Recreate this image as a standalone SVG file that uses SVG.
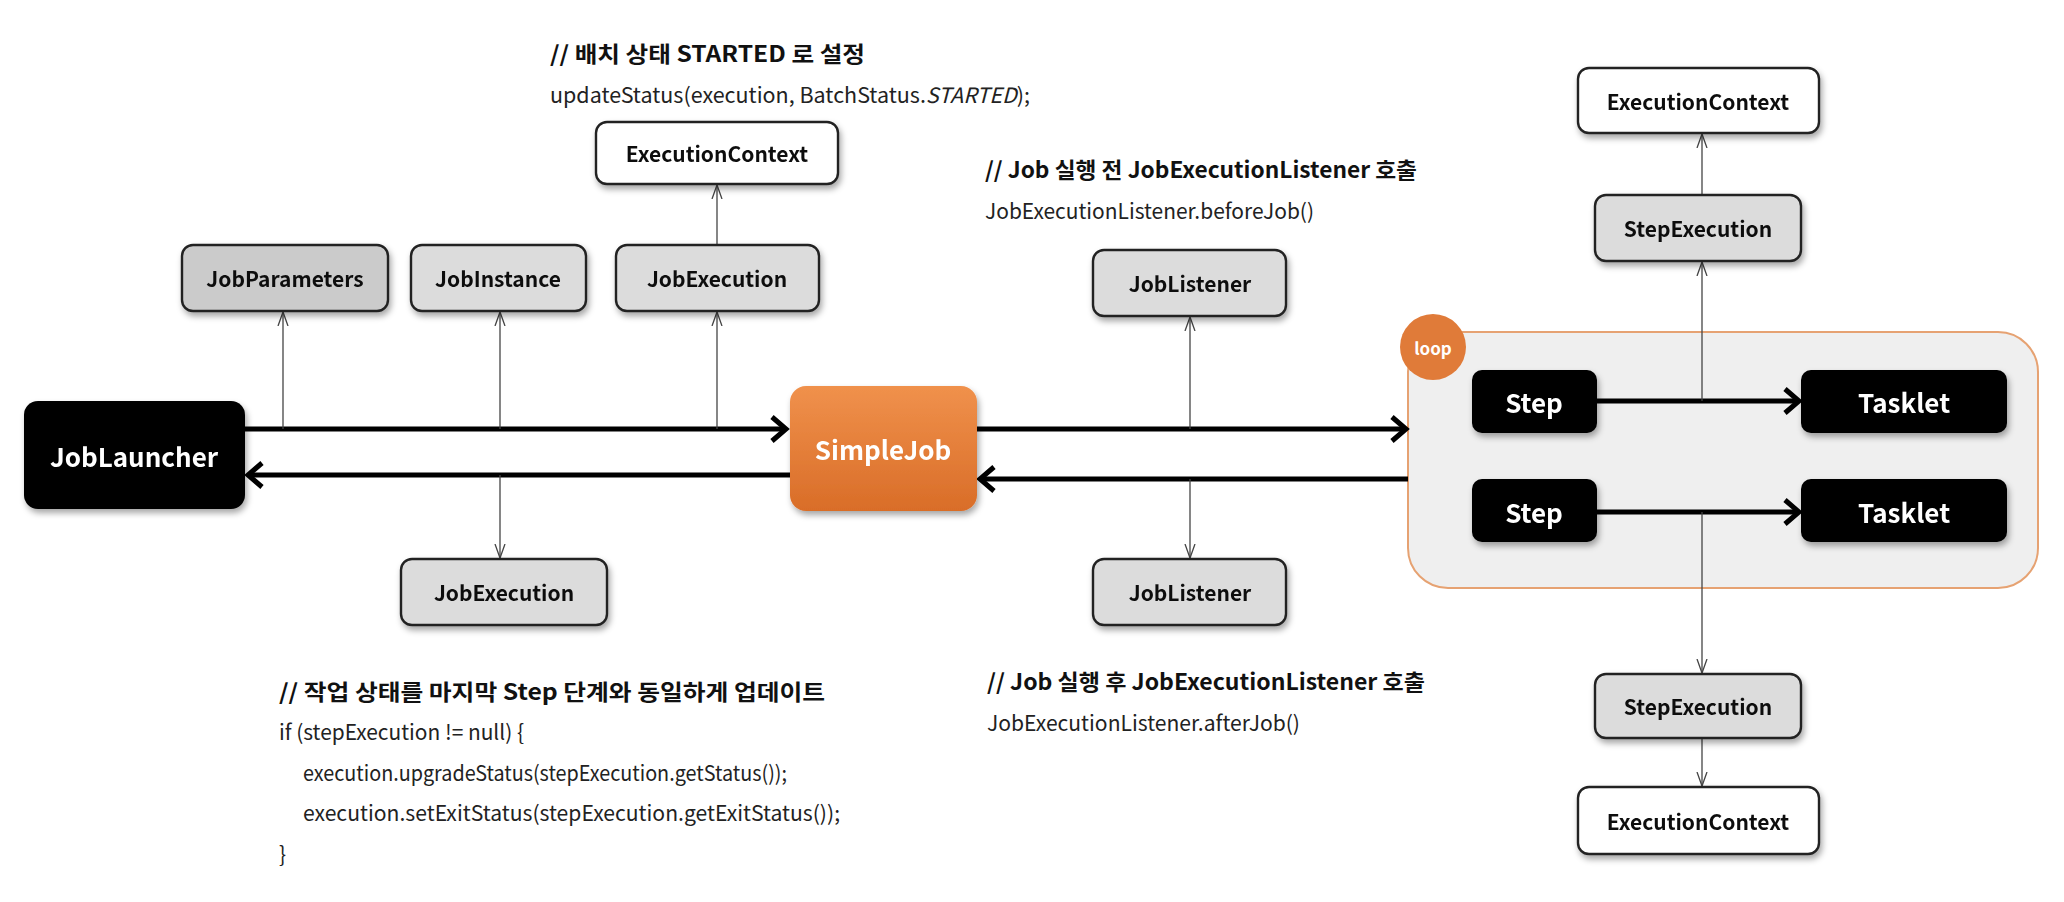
<svg xmlns="http://www.w3.org/2000/svg" width="2064" height="902" viewBox="0 0 2064 902">
<style>
text{font-family:"Noto Sans CJK KR","Noto Sans",sans-serif}
.lbl{font-size:21px;font-weight:700;fill:#111;text-anchor:middle;dominant-baseline:central}
.wlbl{font-size:26px;font-weight:700;fill:#fff;text-anchor:middle;dominant-baseline:central}
.grey{fill:#dcdcdc;stroke:#222;stroke-width:2.4}
.white{fill:#fff;stroke:#222;stroke-width:2.4}
.black{fill:#000}
.thick{stroke:#000;stroke-width:5;fill:none}
.thin{stroke:#444;stroke-width:1.3;fill:none}
.hd{font-size:22px;font-weight:700;fill:#111}
.code{font-size:21px;fill:#222}
</style>
<defs>
<filter id="sh" x="-20%" y="-20%" width="140%" height="150%">
<feDropShadow dx="2" dy="4" stdDeviation="3" flood-color="#000" flood-opacity="0.35"/>
</filter>
<linearGradient id="og" x1="0" y1="0" x2="0" y2="1">
<stop offset="0" stop-color="#f0914c"/>
<stop offset="1" stop-color="#d96d28"/>
</linearGradient>
<marker id="ah" markerUnits="userSpaceOnUse" markerWidth="22" markerHeight="32" refX="17" refY="15" orient="auto">
<path d="M3,3 L17,15 L3,27" fill="none" stroke="#000" stroke-width="5" stroke-linejoin="miter"/>
</marker>
<marker id="at" markerUnits="userSpaceOnUse" markerWidth="16" markerHeight="12" refX="14" refY="6" orient="auto">
<path d="M0,1 L14,6 L0,11" fill="none" stroke="#444" stroke-width="1.3"/>
</marker>
</defs>
<rect width="2064" height="902" fill="#fff"/>

<!-- texts -->
<text class="hd" x="550" y="62" textLength="315" lengthAdjust="spacingAndGlyphs">// 배치 상태 STARTED 로 설정</text>
<text class="code" x="550" y="103" textLength="480" lengthAdjust="spacingAndGlyphs">updateStatus(execution, BatchStatus.<tspan font-style="italic">STARTED</tspan>);</text>
<text class="hd" x="985" y="178" textLength="432" lengthAdjust="spacingAndGlyphs">// Job 실행 전 JobExecutionListener 호출</text>
<text class="code" x="985" y="219" textLength="329" lengthAdjust="spacingAndGlyphs">JobExecutionListener.beforeJob()</text>
<text class="hd" x="987" y="690" textLength="438" lengthAdjust="spacingAndGlyphs">// Job 실행 후 JobExecutionListener 호출</text>
<text class="code" x="987" y="731" textLength="313" lengthAdjust="spacingAndGlyphs">JobExecutionListener.afterJob()</text>
<text class="hd" x="279" y="700" textLength="546" lengthAdjust="spacingAndGlyphs">// 작업 상태를 마지막 Step 단계와 동일하게 업데이트</text>
<text class="code" x="279" y="740" textLength="245" lengthAdjust="spacingAndGlyphs">if (stepExecution != null) {</text>
<text class="code" x="303" y="781" textLength="484" lengthAdjust="spacingAndGlyphs">execution.upgradeStatus(stepExecution.getStatus());</text>
<text class="code" x="303" y="821" textLength="537" lengthAdjust="spacingAndGlyphs">execution.setExitStatus(stepExecution.getExitStatus());</text>
<text class="code" x="279" y="862">}</text>

<!-- loop container -->
<g id="loop">
<rect x="1408" y="332" width="630" height="256" rx="40" fill="#efefef" stroke="#e6a272" stroke-width="2"/>
<circle cx="1433" cy="347" r="33" fill="#e07b39"/>
<text x="1433" y="347" font-size="17" font-weight="700" fill="#fff" text-anchor="middle" dominant-baseline="central">loop</text>
</g>

<!-- connectors -->
<g id="connectors">
<line class="thick" x1="245" y1="429" x2="786" y2="429" marker-end="url(#ah)"/>
<line class="thick" x1="790" y1="475" x2="248" y2="475" marker-end="url(#ah)"/>
<line class="thick" x1="977" y1="429" x2="1406" y2="429" marker-end="url(#ah)"/>
<line class="thick" x1="1408" y1="479" x2="980" y2="479" marker-end="url(#ah)"/>
<line class="thick" x1="1597" y1="401" x2="1799" y2="401" marker-end="url(#ah)"/>
<line class="thick" x1="1597" y1="512" x2="1799" y2="512" marker-end="url(#ah)"/>
<line class="thin" x1="283" y1="429" x2="283" y2="312" marker-end="url(#at)"/>
<line class="thin" x1="500" y1="429" x2="500" y2="312" marker-end="url(#at)"/>
<line class="thin" x1="717" y1="429" x2="717" y2="312" marker-end="url(#at)"/>
<line class="thin" x1="717" y1="245" x2="717" y2="185" marker-end="url(#at)"/>
<line class="thin" x1="500" y1="475" x2="500" y2="558" marker-end="url(#at)"/>
<line class="thin" x1="1190" y1="429" x2="1190" y2="317" marker-end="url(#at)"/>
<line class="thin" x1="1190" y1="479" x2="1190" y2="558" marker-end="url(#at)"/>
<line class="thin" x1="1702" y1="401" x2="1702" y2="262" marker-end="url(#at)"/>
<line class="thin" x1="1702" y1="195" x2="1702" y2="134" marker-end="url(#at)"/>
<line class="thin" x1="1702" y1="512" x2="1702" y2="673" marker-end="url(#at)"/>
<line class="thin" x1="1702" y1="738" x2="1702" y2="786" marker-end="url(#at)"/>
</g>

<!-- nodes -->
<g id="jobLauncher" filter="url(#sh)"><rect class="black" x="24" y="401" width="221" height="108" rx="14"/><text class="wlbl" x="134" y="455">JobLauncher</text></g>
<g id="simpleJob" filter="url(#sh)"><rect x="790" y="386" width="187" height="125" rx="16" fill="url(#og)"/><text class="wlbl" x="883" y="448">SimpleJob</text></g>
<g id="jobParameters" filter="url(#sh)"><rect class="grey" x="182" y="245" width="206" height="66" rx="11" style="fill:#cbcbcb"/><text class="lbl" x="285" y="278">JobParameters</text></g>
<g id="jobInstance" filter="url(#sh)"><rect class="grey" x="411" y="245" width="175" height="66" rx="11"/><text class="lbl" x="498" y="278">JobInstance</text></g>
<g id="jobExecutionTop" filter="url(#sh)"><rect class="grey" x="616" y="245" width="203" height="66" rx="11"/><text class="lbl" x="717" y="278">JobExecution</text></g>
<g id="execCtxLeft" filter="url(#sh)"><rect class="white" x="596" y="122" width="242" height="62" rx="11"/><text class="lbl" x="717" y="153">ExecutionContext</text></g>
<g id="jobExecutionBottom" filter="url(#sh)"><rect class="grey" x="401" y="559" width="206" height="66" rx="11"/><text class="lbl" x="504" y="592">JobExecution</text></g>
<g id="jobListenerTop" filter="url(#sh)"><rect class="grey" x="1093" y="250" width="193" height="66" rx="11"/><text class="lbl" x="1190" y="283">JobListener</text></g>
<g id="jobListenerBottom" filter="url(#sh)"><rect class="grey" x="1093" y="559" width="193" height="66" rx="11"/><text class="lbl" x="1190" y="592">JobListener</text></g>
<g id="step1" filter="url(#sh)"><rect class="black" x="1472" y="370" width="125" height="63" rx="10"/><text class="wlbl" x="1534" y="401">Step</text></g>
<g id="tasklet1" filter="url(#sh)"><rect class="black" x="1801" y="370" width="206" height="63" rx="10"/><text class="wlbl" x="1904" y="401">Tasklet</text></g>
<g id="step2" filter="url(#sh)"><rect class="black" x="1472" y="479" width="125" height="63" rx="10"/><text class="wlbl" x="1534" y="511">Step</text></g>
<g id="tasklet2" filter="url(#sh)"><rect class="black" x="1801" y="479" width="206" height="63" rx="10"/><text class="wlbl" x="1904" y="511">Tasklet</text></g>
<g id="execCtxRightTop" filter="url(#sh)"><rect class="white" x="1578" y="68" width="241" height="65" rx="11"/><text class="lbl" x="1698" y="101">ExecutionContext</text></g>
<g id="stepExecTop" filter="url(#sh)"><rect class="grey" x="1595" y="195" width="206" height="66" rx="11"/><text class="lbl" x="1698" y="228">StepExecution</text></g>
<g id="stepExecBottom" filter="url(#sh)"><rect class="grey" x="1595" y="674" width="206" height="64" rx="11"/><text class="lbl" x="1698" y="706">StepExecution</text></g>
<g id="execCtxRightBottom" filter="url(#sh)"><rect class="white" x="1578" y="787" width="241" height="67" rx="11"/><text class="lbl" x="1698" y="821">ExecutionContext</text></g>
</svg>
